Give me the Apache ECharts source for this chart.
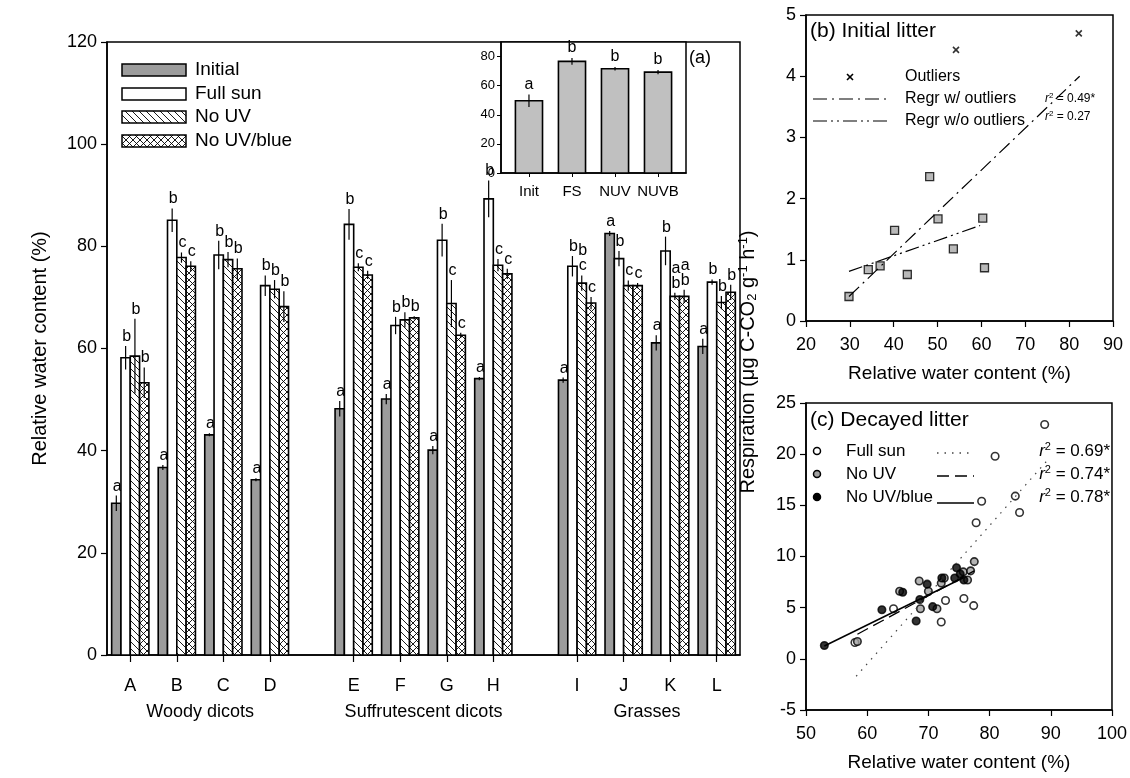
<!DOCTYPE html>
<html>
<head>
<meta charset="utf-8">
<script src="https://cdn.jsdelivr.net/npm/echarts@6/dist/echarts.min.js"></script>
<style>
html,body{margin:0;padding:0;background:#fff;}
#c{width:1130px;height:778px;}
</style>
</head>
<body>
<div id="c"></div>
<script>
// ---------------- DATA ----------------
const categories = ['A','B','C','D','E','F','G','H','I','J','K','L'];
const groupNames = ['Woody dicots','Suffrutescent dicots','Grasses'];
const groupOf = [0,0,0,0,1,1,1,1,2,2,2,2];
const seriesNames = ['Initial','Full sun','No UV','No UV/blue'];

const initialRWC   = [29.7, 36.7, 43.1, 34.3, 48.2, 50.1, 40.1, 54.1, 53.8, 82.5, 61.1, 60.4];
const initialErr   = [1.5, 0.5, 0.3, 0.3, 1.5, 1.0, 0.8, 0.3, 0.5, 0.5, 1.5, 1.5];
const fullSunRWC   = [58.2, 85.1, 78.3, 72.3, 84.3, 64.5, 81.2, 89.3, 76.1, 77.6, 79.1, 73.0];
const fullSunErr   = [2.3, 2.3, 2.8, 2.0, 3.0, 1.7, 3.2, 3.6, 2.0, 1.5, 2.8, 0.5];
const noUVRWC      = [58.5, 77.8, 77.4, 71.6, 75.9, 65.6, 68.8, 76.3, 72.8, 72.3, 70.2, 69.0];
const noUVErr      = [7.3, 1.0, 1.5, 1.8, 0.8, 1.5, 4.6, 1.2, 1.5, 1.0, 0.7, 1.3];
const noUVBRWC     = [53.3, 76.1, 75.6, 68.2, 74.4, 66.0, 62.6, 74.6, 68.9, 72.3, 70.2, 71.0];
const noUVBErr     = [3.0, 1.0, 2.0, 3.0, 0.8, 0.3, 0.5, 1.0, 1.2, 0.5, 1.3, 1.5];
const initialLet   = ['a','a','a','a','a','a','a','a','a','a','a','a'];
const fullSunLet   = ['b','b','b','b','b','b','b','b','b','b','b','b'];
const noUVLet      = ['b','c','b','b','c','b','c','c','b\nc','c','a\nb','b'];
const noUVBLet     = ['b','c','b','b','c','b','c','c','c','c','a\nb','b'];

// inset (a)
const insetCats = ['Init','FS','NUV','NUVB'];
const insetVals = [49.6, 76.7, 71.6, 69.3];
const insetErr  = [4.3, 2.3, 1.2, 1.5];
const insetLet  = ['a','b','b','b'];
const insetTicks = [0,20,40,60,80];

// panel (b) initial litter
const bPoints   = [[29.8,0.40],[34.2,0.84],[36.9,0.90],[40.2,1.48],[43.1,0.76],[48.2,2.36],[50.1,1.67],[53.6,1.18],[60.3,1.68],[60.7,0.87]];
const bOutliers = [[54.2,4.43],[82.2,4.70]];
const bRegWith  = [[29.8,0.40],[82.4,4.00]];
const bRegWithout = [[29.8,0.81],[59.7,1.56]];
const bR2 = ['0.49*','0.27'];

// panel (c) decayed litter
const cFullSun = [[58.0,1.6],[64.3,4.9],[72.1,3.6],[72.8,5.7],[75.8,5.9],[77.4,5.2],[77.8,13.3],[78.7,15.4],[80.9,19.8],[84.2,15.9],[84.9,14.3],[89.0,22.9]];
const cNoUV    = [[58.4,1.7],[65.3,6.6],[68.7,4.9],[68.5,7.6],[70.0,6.6],[71.4,4.9],[72.1,7.4],[72.6,7.9],[75.7,8.5],[76.4,7.7],[76.9,8.6],[77.5,9.5]];
const cNoUVB   = [[53.0,1.3],[62.4,4.8],[65.8,6.5],[68.0,3.7],[68.6,5.8],[69.8,7.3],[70.7,5.1],[72.2,7.9],[74.3,7.9],[74.6,8.9],[75.2,8.3],[75.8,7.7]];
const cRegFullSun = [[58.2,-1.7],[89.3,19.3]];
const cRegNoUV    = [[58.4,2.4],[77.5,8.6]];
const cRegNoUVB   = [[53.0,1.25],[75.8,7.95]];
const cR2 = ['0.69*','0.74*','0.78*'];

// ---------------- LAYOUT HELPERS ----------------
const GROUP_GAP = 0.8;
const catPos = categories.map((c,i)=> i + groupOf[i]*GROUP_GAP);
const FONT = 'Arial, "Liberation Sans", Helvetica, sans-serif';

function makePattern(cross){
  const s = 7;
  const cv = document.createElement('canvas');
  cv.width = s; cv.height = s;
  const g = cv.getContext('2d');
  g.fillStyle = '#fff'; g.fillRect(0,0,s,s);
  g.strokeStyle = '#000'; g.lineWidth = 0.9;
  g.beginPath();
  g.moveTo(-1,-1); g.lineTo(s+1,s+1);
  g.moveTo(-2,s-2); g.lineTo(2,s+2);
  g.moveTo(s-2,-2); g.lineTo(s+2,2);
  if(cross){
    g.moveTo(-1,s+1); g.lineTo(s+1,-1);
    g.moveTo(-2,2); g.lineTo(2,-2);
    g.moveTo(s-2,s+2); g.lineTo(s+2,s-2);
  }
  g.stroke();
  return cv;
}
const hatchCanvas = makePattern(false);
const crossCanvas = makePattern(true);
const fills = ['#9c9c9c', '#ffffff', {image: hatchCanvas, repeat:'repeat'}, {image: crossCanvas, repeat:'repeat'}];

const BAR_FRAC = 0.2;
function barSeries(k, vals, errs, lets){
  return {
    type:'custom', name: seriesNames[k], xAxisIndex:0, yAxisIndex:0, clip:false,
    data: vals.map((v,i)=>[catPos[i], v, errs[i]]),
    renderItem: function(params, api){
      const x = api.value(0), v = api.value(1), e = api.value(2);
      const bw = api.size([1,0])[0]*BAR_FRAC;
      const p0 = api.coord([x,0]), p1 = api.coord([x,v]);
      const left = p0[0] + (k-2)*bw;
      const cx = left + bw/2;
      const yt = api.coord([x, v+e])[1], yb = api.coord([x, v-e])[1];
      const txt = lets[params.dataIndex];
      return {type:'group', children:[
        {type:'rect', shape:{x:left, y:p1[1], width:bw, height:p0[1]-p1[1]},
          style:{fill: fills[k], stroke:'#000', lineWidth:1.6}},
        {type:'line', shape:{x1:cx, y1:yt, x2:cx, y2:yb}, style:{stroke:'#000', lineWidth:1.2}},
        {type:'text', x:cx+1, y:yt-2, style:{text:txt, fill:'#000', font:'16px '+FONT, align:'center', verticalAlign:'bottom', lineHeight:15}}
      ]};
    }
  };
}

const groupCenters = groupNames.map((g,gi)=>{
  const idx = groupOf.map((v,i)=>v===gi?i:-1).filter(i=>i>=0);
  return (catPos[idx[0]] + catPos[idx[idx.length-1]])/2;
});

const chart = echarts.init(document.getElementById('c'), null, {renderer:'canvas'});

const axisBase = {
  axisLine:{show:true, onZero:false, lineStyle:{color:'#000', width:1.5}},
  axisTick:{show:true, inside:false, length:6, lineStyle:{color:'#000', width:1.2}},
  splitLine:{show:false},
  axisLabel:{color:'#000', fontFamily:FONT, fontSize:18, margin:10}
};
function ax(extra){ return Object.assign({}, JSON.parse(JSON.stringify(axisBase)), extra); }

const option = {
  animation:false,
  backgroundColor:'#fff',
  grid:[
    {left:107, top:42, width:633, height:613, show:true, borderColor:'#000', borderWidth:1.5, backgroundColor:'transparent'},
    {left:501, top:42, width:185, height:131, show:true, borderColor:'#000', borderWidth:1.5, backgroundColor:'#fff'},
    {left:806, top:15, width:307, height:306, show:true, borderColor:'#000', borderWidth:1.5},
    {left:806, top:403, width:306, height:307, show:true, borderColor:'#000', borderWidth:1.5}
  ],
  xAxis:[
    ax({gridIndex:0, type:'value', min:-0.5, max:catPos[catPos.length-1]+0.5,
      axisTick:{show:true, length:7, lineStyle:{color:'#000', width:1.2}, customValues:catPos},
      axisLabel:{color:'#000', fontFamily:FONT, fontSize:18, margin:22, customValues:catPos,
        formatter:(v)=>{const i=catPos.findIndex(p=>Math.abs(p-v)<1e-6); return i>=0?categories[i]:'';}}}),
    ax({gridIndex:1, type:'value', min:-0.65, max:3.65,
      axisTick:{show:true, length:4, lineStyle:{color:'#000', width:1}, customValues:[0,1,2,3]},
      axisLabel:{color:'#000', fontFamily:FONT, fontSize:15, margin:11, customValues:[0,1,2,3],
        formatter:(v)=>insetCats[Math.round(v)]}}),
    ax({gridIndex:2, type:'value', min:20, max:90, interval:10,
      axisLabel:{color:'#000', fontFamily:FONT, fontSize:18, margin:15},
      name:'Relative water content (%)', nameLocation:'middle', nameGap:43,
      nameTextStyle:{color:'#000', fontFamily:FONT, fontSize:19}}),
    ax({gridIndex:3, type:'value', min:50, max:100, interval:10,
      axisLabel:{color:'#000', fontFamily:FONT, fontSize:18, margin:15},
      name:'Relative water content (%)', nameLocation:'middle', nameGap:43,
      nameTextStyle:{color:'#000', fontFamily:FONT, fontSize:19}})
  ],
  yAxis:[
    ax({gridIndex:0, type:'value', min:0, max:120, interval:20,
      name:'Relative water content (%)', nameLocation:'middle', nameGap:57,
      nameTextStyle:{color:'#000', fontFamily:FONT, fontSize:20}}),
    ax({gridIndex:1, type:'value', min:0, max:90, interval:20,
      axisTick:{show:true, length:4, lineStyle:{color:'#000', width:1}, customValues:insetTicks},
      axisLabel:{color:'#000', fontFamily:FONT, fontSize:13, margin:6, customValues:insetTicks}}),
    ax({gridIndex:2, type:'value', min:0, max:5, interval:1}),
    ax({gridIndex:3, type:'value', min:-5, max:25, interval:5})
  ],
  series:[
    barSeries(0, initialRWC, initialErr, initialLet),
    barSeries(1, fullSunRWC, fullSunErr, fullSunLet),
    barSeries(2, noUVRWC, noUVErr, noUVLet),
    barSeries(3, noUVBRWC, noUVBErr, noUVBLet),
    {type:'custom', xAxisIndex:0, yAxisIndex:0, clip:false,
      data: groupCenters.map((c)=>[c,0]),
      renderItem:function(params, api){
        const p = api.coord([api.value(0), 0]);
        return {type:'text', x:p[0], y:p[1]+57, style:{text:groupNames[params.dataIndex], fill:'#000', font:'18px '+FONT, align:'center', verticalAlign:'middle'}};
      }},
    {type:'custom', xAxisIndex:1, yAxisIndex:1, clip:false,
      data: insetVals.map((v,i)=>[i, v, insetErr[i]]),
      renderItem:function(params, api){
        const x=api.value(0), v=api.value(1), e=api.value(2);
        const bw = api.size([1,0])[0]*0.63;
        const p0=api.coord([x,0]), p1=api.coord([x,v]);
        const yt=api.coord([x,v+e])[1], yb=api.coord([x,v-e])[1];
        return {type:'group', children:[
          {type:'rect', shape:{x:p0[0]-bw/2, y:p1[1], width:bw, height:p0[1]-p1[1]}, style:{fill:'#c0c0c0', stroke:'#000', lineWidth:1.6}},
          {type:'line', shape:{x1:p0[0], y1:yt, x2:p0[0], y2:yb}, style:{stroke:'#000', lineWidth:1.2}},
          {type:'text', x:p0[0], y:yt-2, style:{text:insetLet[params.dataIndex], fill:'#000', font:'16px '+FONT, align:'center', verticalAlign:'bottom'}}
        ]};
      }},
    {type:'line', xAxisIndex:2, yAxisIndex:2, data:bRegWith, symbol:'none', lineStyle:{color:'#000', width:1.2, type:[14,5,2,5]}},
    {type:'line', xAxisIndex:2, yAxisIndex:2, data:bRegWithout, symbol:'none', lineStyle:{color:'#000', width:1.2, type:[14,4,2,4,2,4]}},
    {type:'scatter', xAxisIndex:2, yAxisIndex:2, data:bPoints, symbol:'rect', symbolSize:8, itemStyle:{color:'#a8a8a8', borderColor:'#000', borderWidth:1.3}},
    {type:'scatter', xAxisIndex:2, yAxisIndex:2, data:bOutliers, symbol:'path://M0,0L10,10M10,0L0,10', symbolSize:6, itemStyle:{color:'#000', borderColor:'#000', borderWidth:1.6}},
    {type:'line', xAxisIndex:3, yAxisIndex:3, data:cRegFullSun, symbol:'none', lineStyle:{color:'#444', width:1.2, type:[1.5,6]}},
    {type:'line', xAxisIndex:3, yAxisIndex:3, data:cRegNoUV, symbol:'none', lineStyle:{color:'#000', width:1.3, type:[12,6]}},
    {type:'line', xAxisIndex:3, yAxisIndex:3, data:cRegNoUVB, symbol:'none', lineStyle:{color:'#000', width:1.5}},
    {type:'scatter', xAxisIndex:3, yAxisIndex:3, data:cFullSun, symbol:'circle', symbolSize:7.5, itemStyle:{color:'#fff', borderColor:'#000', borderWidth:1.6}},
    {type:'scatter', xAxisIndex:3, yAxisIndex:3, data:cNoUV, symbol:'circle', symbolSize:7.5, itemStyle:{color:'#a0a0a0', borderColor:'#000', borderWidth:1.6}},
    {type:'scatter', xAxisIndex:3, yAxisIndex:3, data:cNoUVB, symbol:'circle', symbolSize:7.5, itemStyle:{color:'#000', borderColor:'#000', borderWidth:1.6}}
  ],
  graphic:[]
};

// ---- legends & annotations ----
const G = option.graphic;
const legRows = [70, 94, 117, 141];
seriesNames.forEach((n,k)=>{
  G.push({type:'rect', shape:{x:122, y:legRows[k]-6, width:64, height:12}, style:{fill:fills[k], stroke:'#000', lineWidth:1.5}, z:10});
  G.push({type:'text', x:195, y:legRows[k], style:{text:n, fill:'#000', font:'19px '+FONT, verticalAlign:'middle'}, z:10});
});
G.push({type:'text', x:689, y:58, style:{text:'(a)', fill:'#000', font:'18px '+FONT, verticalAlign:'middle'}, z:10});

// panel b annotations
G.push({type:'text', x:810, y:31, style:{text:'(b) Initial litter', fill:'#000', font:'21px '+FONT, verticalAlign:'middle'}, z:10});
G.push({type:'group', x:850, y:77, children:[
  {type:'line', shape:{x1:-3,y1:-3,x2:3,y2:3}, style:{stroke:'#000', lineWidth:1.6}},
  {type:'line', shape:{x1:-3,y1:3,x2:3,y2:-3}, style:{stroke:'#000', lineWidth:1.6}}
], z:10});
G.push({type:'text', x:905, y:77, style:{text:'Outliers', fill:'#000', font:'16px '+FONT, verticalAlign:'middle'}, z:10});
G.push({type:'line', shape:{x1:813,y1:99,x2:887,y2:99}, style:{stroke:'#000', lineWidth:1.2, lineDash:[14,5,2,5]}, z:10});
G.push({type:'text', x:905, y:99, style:{text:'Regr w/ outliers', fill:'#000', font:'16px '+FONT, verticalAlign:'middle'}, z:10});
G.push({type:'line', shape:{x1:813,y1:121,x2:887,y2:121}, style:{stroke:'#000', lineWidth:1.2, lineDash:[14,4,2,4,2,4]}, z:10});
G.push({type:'text', x:905, y:121, style:{text:'Regr w/o outliers', fill:'#000', font:'16px '+FONT, verticalAlign:'middle'}, z:10});
[99,117].forEach((yy,i)=>{
  G.push({type:'text', x:1045, y:yy, style:{text:'{i|r}{s|2}{n| = '+bR2[i]+'}', fill:'#000', verticalAlign:'middle',
    rich:{i:{font:'italic 12px '+FONT, fill:'#000'}, s:{font:'8px '+FONT, fill:'#000', verticalAlign:'top', padding:[0,0,6,0]}, n:{font:'12px '+FONT, fill:'#000'}}}, z:10});
});

// panel c annotations
G.push({type:'text', x:810, y:420, style:{text:'(c) Decayed litter', fill:'#000', font:'21px '+FONT, verticalAlign:'middle'}, z:10});
const cRows = [451, 474, 497];
const cFill = ['#fff','#a0a0a0','#000'];
const cNames = ['Full sun','No UV','No UV/blue'];
const cDash = [[1.5,6],[12,6],null];
cNames.forEach((n,i)=>{
  G.push({type:'circle', shape:{cx:817, cy:cRows[i], r:3.5}, style:{fill:cFill[i], stroke:'#000', lineWidth:1.5}, z:10});
  G.push({type:'text', x:846, y:cRows[i], style:{text:n, fill:'#000', font:'17px '+FONT, verticalAlign:'middle'}, z:10});
  G.push({type:'line', shape:{x1:937,y1:cRows[i]+(i===2?6:2),x2:974,y2:cRows[i]+(i===2?6:2)}, style:{stroke:i===0?'#444':'#000', lineWidth:1.4, lineDash:cDash[i]}, z:10});
  G.push({type:'text', x:1110, y:cRows[i], style:{text:'{i|r}{s|2}{n| = '+cR2[i]+'}', fill:'#000', align:'right', verticalAlign:'middle',
    rich:{i:{font:'italic 17px '+FONT, fill:'#000'}, s:{font:'11px '+FONT, fill:'#000', verticalAlign:'top', padding:[0,0,8,0]}, n:{font:'17px '+FONT, fill:'#000'}}}, z:10});
});

// shared y title for panels b & c
G.push({type:'text', x:748, y:362, rotation:Math.PI/2, style:{
  text:'{a|Respiration (μg C-CO}{sb|2}{a| g}{sp|-1}{a| h}{sp|-1}{a|)}', align:'center', verticalAlign:'middle',
  rich:{a:{font:'20px '+FONT, fill:'#000', lineHeight:22}, sb:{font:'13px '+FONT, fill:'#000', verticalAlign:'bottom', lineHeight:22, padding:[8,0,0,0]}, sp:{font:'13px '+FONT, fill:'#000', verticalAlign:'top', lineHeight:22, padding:[0,0,8,0]}}
}, z:10});

chart.setOption(option);
</script>
</body>
</html>
